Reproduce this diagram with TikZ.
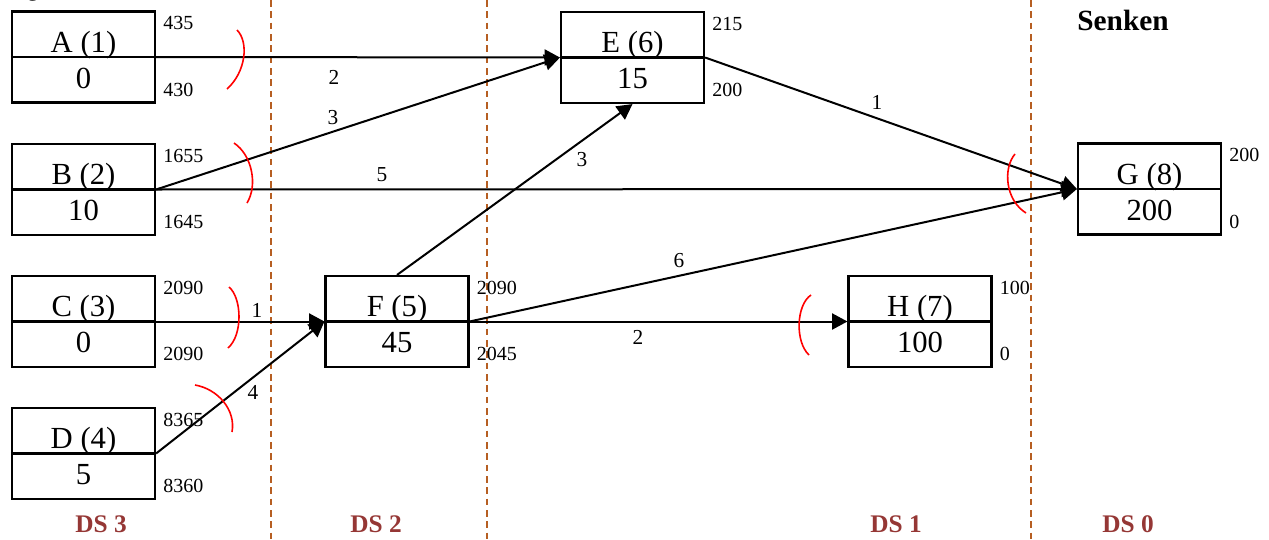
\documentclass[tikz,border=0pt]{standalone}
\usepackage{fontspec}
\setmainfont{Liberation Serif}
\usetikzlibrary{arrows.meta,calc}
\definecolor{dsline}{HTML}{B65E22}
\definecolor{dstext}{HTML}{953735}
\tikzset{
  box/.style={draw, line width=1.6pt, minimum width=107.25pt, minimum height=68.25pt, inner sep=0pt},
  bigtxt/.style={font=\fontsize{23}{23}\selectfont, inner sep=0pt, anchor=base},
  corner/.style={font=\fontsize{15}{15}\selectfont, inner sep=0pt, anchor=base west},
  elabel/.style={font=\fontsize{16}{16}\selectfont, inner sep=0pt},
  flow/.style={line width=1.5pt, -{Triangle[length=11.5pt,width=12pt]}},
  sepline/.style={dsline, line width=1.5pt, dash pattern=on 5pt off 3.5pt},
  cutarc/.style={red, line width=1.2pt},
  dslab/.style={text=dstext, font=\bfseries\fontsize{19}{19}\selectfont, inner sep=0pt, anchor=base},
  head/.style={font=\bfseries\fontsize{22}{22}\selectfont, inner sep=0pt, anchor=base},
}
\newcommand{\knoten}[6]{%
  \node[box] (#1) at #2 {};
  \draw[line width=1.6pt] (#1.west) -- (#1.east);
  \node[bigtxt] (#1-t) at ($(#1.center)+(0,-5)$) {#3};
  \node[bigtxt] (#1-b) at ($(#1.center)+(0,31)$) {#4};
  \node[corner] (#1-u) at ($(#1.north east)+(7,19.5)$) {#5};
  \node[corner] (#1-l) at ($(#1.south east)+(7,-7.5)$) {#6};
}
\begin{document}
\begin{tikzpicture}[x=0.75pt,y=-0.75pt]
\useasboundingbox (0,0) rectangle (1269,539);

% separator lines
\draw[sepline] (271,0) -- (271,539);
\draw[sepline] (487,0) -- (487,539);
\draw[sepline] (1031,0) -- (1031,539);

% boxes
\knoten{A}{(83.5,57)}{A (1)}{0}{435}{430}
\knoten{B}{(83.5,189.5)}{B (2)}{10}{1655}{1645}
\knoten{C}{(83.5,321.5)}{C (3)}{0}{2090}{2090}
\knoten{D}{(83.5,453.5)}{D (4)}{5}{8365}{8360}
\knoten{E}{(632.5,57.5)}{E (6)}{15}{215}{200}
\knoten{F}{(397,321.5)}{F (5)}{45}{2090}{2045}
\knoten{G}{(1149.5,189)}{G (8)}{200}{200}{0}
\knoten{H}{(920,321.5)}{H (7)}{100}{100}{0}

% connectors
\draw[flow] (A.east) -- (E.west);
\draw[flow] (B.east) -- (E.west);
\draw[flow] (B.east) -- (G.west);
\draw[flow] (E.east) -- (G.west);
\draw[flow] (F.north) -- (E.south);
\draw[flow] (F.east) -- (G.west);
\draw[flow] (F.east) -- (H.west);
\draw[flow] (C.east) -- (F.west);
\draw[flow] (D.east) -- (F.west);

% connector labels
\node[elabel] (lAE) at (334,77) {2};
\node[elabel] (lBE) at (333,118) {3};
\node[elabel] (lBG) at (382,175) {5};
\node[elabel] (lEG) at (877,102) {1};
\node[elabel] (lFE) at (582,160) {3};
\node[elabel] (lFG) at (679,261) {6};
\node[elabel] (lFH) at (638,337) {2};
\node[elabel] (lCF) at (257,310) {1};
\node[elabel] (lDF) at (253,392) {4};

% red cut arcs
\draw[cutarc] (237,30) .. controls (249,42) and (246,72) .. (227,89);
\draw[cutarc] (234,143) .. controls (252,155) and (258,185) .. (247,203);
\draw[cutarc] (229,287) .. controls (242,298) and (243,335) .. (228,348);
\draw[cutarc] (195,385) .. controls (218,389) and (236,410) .. (232,432);
\draw[cutarc] (1015,154) .. controls (1003,168) and (1005,200) .. (1026,213);
\draw[cutarc] (811,295) .. controls (796,305) and (795,342) .. (809,355);

% headings
\node[head, anchor=base west] (quellen) at (14,-3) {Quellen};
\node[head] (senken) at (1123,30) {Senken};
\node[dslab] (ds3) at (101,532) {DS 3};
\node[dslab] (ds2) at (376,532) {DS 2};
\node[dslab] (ds1) at (896,532) {DS 1};
\node[dslab] (ds0) at (1128,532) {DS 0};
\end{tikzpicture}
\end{document}
